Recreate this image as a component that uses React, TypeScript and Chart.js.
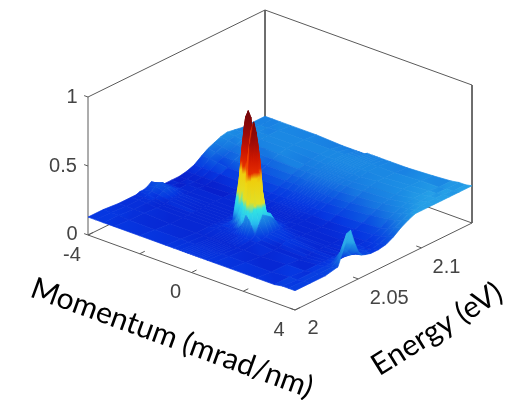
import { useEffect, useRef } from "react";
import { Chart, registerables } from "chart.js";

Chart.register(...registerables);

const momentum = [-4, -3.7, -3.4, -3, -2, -1, -0.7, -0.45, -0.35, -0.25, -0.15, -0.05, 0.05, 0.15, 0.25, 0.35, 0.45, 0.6, 0.85, 1.5, 2.5, 3.2, 3.5, 3.75, 4];
const energy = [2.0, 2.012, 2.024, 2.034, 2.038, 2.041, 2.044, 2.047, 2.05, 2.053, 2.056, 2.06, 2.066, 2.072, 2.078, 2.084, 2.09, 2.095, 2.1, 2.105, 2.11, 2.116, 2.122, 2.13, 2.14];
// intensity x 100, one row per energy, one column per momentum
const intensity = [
  [13, 13, 13, 13, 13, 13, 13, 13, 13, 13, 13, 13, 13, 13, 13, 13, 13, 13, 13, 13, 13, 13, 14, 14, 14],
  [13, 13, 13, 12, 12, 12, 12, 12, 12, 12, 12, 12, 12, 12, 12, 12, 12, 12, 12, 12, 12, 13, 13, 14, 14],
  [12, 12, 12, 12, 11, 11, 11, 11, 11, 11, 11, 11, 11, 11, 11, 11, 11, 11, 11, 11, 12, 12, 13, 14, 14],
  [12, 12, 12, 11, 11, 11, 12, 12, 12, 12, 12, 12, 12, 12, 13, 13, 13, 12, 12, 11, 11, 12, 13, 14, 16],
  [12, 12, 12, 11, 11, 11, 12, 12, 12, 13, 13, 14, 17, 20, 26, 24, 20, 14, 12, 11, 11, 12, 13, 17, 26],
  [13, 13, 12, 11, 11, 11, 12, 13, 14, 15, 18, 24, 36, 62, 76, 60, 38, 20, 13, 12, 11, 12, 14, 22, 37],
  [13, 14, 13, 12, 11, 11, 12, 16, 20, 26, 34, 42, 58, 84, 91, 84, 56, 26, 14, 13, 12, 12, 14, 24, 38],
  [14, 16, 15, 12, 11, 11, 12, 44, 66, 84, 74, 58, 50, 66, 76, 62, 40, 24, 14, 13, 12, 12, 13, 20, 28],
  [16, 17, 16, 12, 11, 11, 13, 70, 88, 93, 89, 68, 34, 30, 30, 28, 24, 22, 14, 12, 11, 12, 13, 16, 20],
  [14, 16, 15, 12, 11, 11, 13, 40, 62, 76, 60, 42, 20, 20, 20, 21, 22, 19, 13, 12, 12, 12, 13, 15, 16],
  [11, 13, 13, 11, 11, 11, 12, 15, 19, 24, 22, 19, 15, 15, 15, 15, 16, 14, 12, 11, 11, 12, 13, 14, 15],
  [10, 11, 11, 11, 11, 11, 11, 12, 12, 13, 13, 13, 12, 12, 12, 12, 12, 12, 11, 11, 11, 12, 13, 14, 14],
  [10, 10, 11, 11, 11, 11, 11, 11, 11, 11, 11, 11, 11, 11, 11, 11, 11, 11, 11, 11, 11, 12, 12, 13, 14],
  [10, 10, 10, 10, 11, 11, 11, 11, 11, 11, 11, 11, 11, 11, 11, 11, 11, 11, 11, 11, 12, 12, 13, 14, 15],
  [11, 11, 11, 11, 11, 12, 12, 12, 12, 12, 12, 12, 12, 12, 12, 12, 12, 12, 12, 12, 13, 14, 15, 16, 18],
  [13, 13, 13, 13, 13, 13, 13, 13, 13, 13, 13, 13, 13, 13, 13, 13, 13, 13, 13, 14, 15, 16, 18, 20, 22],
  [17, 17, 16, 15, 15, 15, 15, 15, 15, 15, 15, 15, 15, 15, 15, 15, 15, 15, 15, 16, 18, 20, 21, 23, 25],
  [20, 19, 18, 18, 17, 17, 17, 17, 17, 17, 17, 17, 17, 17, 17, 17, 17, 17, 17, 18, 20, 22, 24, 25, 27],
  [22, 21, 20, 20, 19, 19, 19, 19, 19, 19, 19, 19, 19, 19, 19, 19, 19, 19, 19, 20, 22, 24, 25, 26, 27],
  [24, 23, 22, 22, 21, 21, 21, 21, 21, 21, 21, 21, 21, 21, 21, 21, 21, 21, 21, 22, 23, 25, 26, 27, 27],
  [25, 24, 24, 23, 23, 22, 22, 22, 22, 22, 22, 22, 22, 22, 22, 22, 22, 22, 22, 23, 24, 26, 26, 27, 27],
  [24, 24, 24, 24, 24, 23, 23, 23, 23, 23, 23, 23, 23, 23, 23, 23, 23, 23, 23, 24, 25, 26, 27, 27, 27],
  [23, 23, 24, 24, 24, 24, 24, 24, 24, 24, 24, 24, 24, 24, 24, 24, 24, 24, 24, 24, 25, 26, 26, 27, 27],
  [23, 23, 23, 24, 24, 24, 24, 24, 24, 24, 24, 24, 24, 24, 24, 24, 24, 24, 24, 24, 25, 25, 26, 26, 27],
  [23, 23, 23, 23, 23, 22, 22, 22, 22, 22, 22, 23, 23, 23, 23, 23, 23, 23, 23, 23, 24, 25, 26, 26, 27],
];

const momentumTicks = [-4, -2, 0, 2, 4];
const momentumTickLabels = ["-4", "0", "4"];
const momentumLabelValues = [-4, 0, 4];
const energyTicks = [2, 2.05, 2.1];
const energyTickLabels = ["2", "2.05", "2.1"];
const intensityTicks = [0, 0.5, 1];
const intensityTickLabels = ["0", "0.5", "1"];

const M_MIN = -4, M_MAX = 4, E_MIN = 2, E_MAX = 2.14;

function project(m: number, e: number, z: number) {
  const a = (M_MAX - m) / (M_MAX - M_MIN);
  const b = (e - E_MIN) / (E_MAX - E_MIN);
  return { x: 295 - 207 * a + 177 * b, y: 310 - 75 * a - 87 * b - 138 * z };
}

const plainStops: [number, number[]][] = [
  [0.1, [8, 32, 205]], [0.13, [6, 55, 225]], [0.17, [12, 85, 225]], [0.21, [22, 118, 225]], [0.25, [28, 142, 228]], [0.28, [42, 168, 232]], [0.38, [50, 180, 235]],
];
const peakStops: [number, number[]][] = [
  [0.13, [6, 55, 225]], [0.17, [26, 130, 228]], [0.22, [40, 195, 240]], [0.31, [50, 230, 225]], [0.33, [225, 225, 40]], [0.52, [240, 205, 10]], [0.55, [230, 45, 0]], [0.66, [205, 22, 0]], [0.78, [155, 10, 8]], [0.95, [110, 5, 10]],
];
const flankStops: [number, number[]][] = [
  [0.13, [6, 55, 225]], [0.17, [26, 130, 228]], [0.22, [40, 195, 240]], [0.31, [50, 230, 225]], [0.33, [225, 225, 40]], [0.52, [245, 210, 10]], [0.55, [245, 75, 0]], [0.8, [235, 50, 0]], [0.93, [190, 20, 0]],
];

function colorAt(stops: [number, number[]][], z: number) {
  if (z <= stops[0][0]) return `rgb(${stops[0][1].join(",")})`;
  for (let i = 1; i < stops.length; i++) {
    if (z <= stops[i][0]) {
      const t = (z - stops[i - 1][0]) / (stops[i][0] - stops[i - 1][0]);
      const c = stops[i - 1][1].map((v, k) => Math.round(v + (stops[i][1][k] - v) * t));
      return `rgb(${c.join(",")})`;
    }
  }
  return `rgb(${stops[stops.length - 1][1].join(",")})`;
}

function lineSet(points: { x: number; y: number }[], color: string, width = 1) {
  return {
    data: points,
    showLine: true,
    borderColor: color,
    borderWidth: width,
    pointRadius: 0,
    fill: false,
    tension: 0,
    clip: false,
  };
}

function buildSurface(ctx: CanvasRenderingContext2D) {
  const out: any[] = [];
  for (let i = 0; i < momentum.length - 1; i++) {
    for (let j = energy.length - 2; j >= 0; j--) {
      const corners = [
        [i, j], [i + 1, j], [i + 1, j + 1], [i, j + 1],
      ].map(([c, r]) => {
        const z = intensity[r][c] / 100;
        return { z, ...project(momentum[c], energy[r], z) };
      });
      const inPeak = momentum[i] >= -0.7 && momentum[i + 1] <= 0.6 && energy[j] >= 2.038 && energy[j + 1] <= 2.056;
      const onFlank = momentum[i] >= 0.05 && momentum[i + 1] <= 0.25;
      const stops = inPeak ? (onFlank ? flankStops : peakStops) : plainStops;
      let lo = corners[0], hi = corners[0];
      for (const c of corners) {
        if (c.z < lo.z) lo = c;
        if (c.z > hi.z) hi = c;
      }
      let paint: any;
      if (hi.z - lo.z < 0.001) {
        paint = colorAt(stops, lo.z);
      } else {
        const g = ctx.createLinearGradient(lo.x, lo.y, hi.x, hi.y);
        const n = 10;
        for (let s = 0; s <= n; s++) g.addColorStop(s / n, colorAt(stops, lo.z + ((hi.z - lo.z) * s) / n));
        paint = g;
      }
      out.push({
        data: [...corners.map((c) => ({ x: c.x, y: c.y })), { x: corners[0].x, y: corners[0].y }],
        showLine: true,
        fill: "shape",
        backgroundColor: paint,
        borderColor: paint,
        borderWidth: 0.7,
        pointRadius: 0,
        tension: 0,
        clip: false,
      });
    }
  }
  return out;
}

function buildBox() {
  const grey = "#5a5a5a";
  const c = (m: number, e: number, z: number) => project(m, e, z);
  const sets = [
    lineSet([c(M_MIN, E_MIN, 0), c(M_MAX, E_MIN, 0), c(M_MAX, E_MAX, 0), c(M_MIN, E_MAX, 0), c(M_MIN, E_MIN, 0)], grey),
    lineSet([c(M_MIN, E_MIN, 0), c(M_MIN, E_MIN, 1), c(M_MIN, E_MAX, 1), c(M_MAX, E_MAX, 1), c(M_MAX, E_MAX, 0)], grey),
    lineSet([c(M_MIN, E_MAX, 1), c(M_MIN, E_MAX, 0)], grey),
  ];
  for (const m of momentumTicks) sets.push(lineSet([c(m, E_MIN, 0), c(m, E_MIN + 0.004, 0)], grey));
  for (const e of energyTicks) sets.push(lineSet([c(M_MAX, e, 0), c(M_MAX - 0.2, e, 0)], grey));
  for (const z of intensityTicks) sets.push(lineSet([c(M_MIN, E_MIN, z), c(M_MIN - 0.15, E_MIN, z)], grey));
  return sets;
}

const textPlugin = {
  id: "axisText",
  afterDraw(chart: any) {
    const { ctx, scales } = chart;
    const put = (text: string, px: number, py: number, font: string, color: string, angle = 0) => {
      ctx.save();
      ctx.translate(scales.x.getPixelForValue(px), scales.y.getPixelForValue(py));
      ctx.rotate((angle * Math.PI) / 180);
      ctx.font = font;
      ctx.fillStyle = color;
      ctx.textAlign = "center";
      ctx.textBaseline = "middle";
      ctx.fillText(text, 0, 0);
      ctx.restore();
    };
    const tickFont = '20px "Liberation Sans"';
    const tickColor = "#444444";
    intensityTickLabels.forEach((t, i) => {
      const p = project(M_MIN, E_MIN, intensityTicks[i]);
      const w = t.length > 1 ? 25 : 16;
      put(t, p.x - w, p.y - (i === 0 ? 1 : 0), tickFont, tickColor);
    });
    momentumTickLabels.forEach((t, i) => {
      const p = project(momentumLabelValues[i], E_MIN, 0);
      put(t, p.x - 16, p.y + 20, tickFont, tickColor);
    });
    energyTickLabels.forEach((t, i) => {
      const p = project(M_MAX, energyTicks[i], 0);
      put(t, p.x + (i === 0 ? 18 : i === 1 ? 31 : 25), p.y + (i === 0 ? 18 : 20), tickFont, tickColor);
    });
    put("Momentum (mrad/nm)", 172, 338, "30px Lato", "#000", 20);
    put("Energy (eV)", 437, 329, "30px Lato", "#000", -32);
  },
};

export default function App() {
  const ref = useRef<HTMLCanvasElement>(null);
  useEffect(() => {
    document.body.style.margin = "0";
    const canvas = ref.current!;
    const ctx = canvas.getContext("2d")!;
    const drawOrder = [...buildBox(), ...buildSurface(ctx)];
    const chart = new Chart(canvas, {
      type: "scatter",
      data: { datasets: drawOrder.reverse() },
      options: {
        animation: false,
        responsive: false,
        layout: { padding: 0 },
        plugins: { legend: { display: false }, tooltip: { enabled: false } },
        scales: {
          x: { type: "linear", display: false, min: 0, max: 509 },
          y: { type: "linear", display: false, min: 0, max: 400, reverse: true },
        },
      },
      plugins: [textPlugin],
    });
    return () => chart.destroy();
  }, []);
  return (
    <div style={{ width: 509, height: 400 }}>
      <canvas ref={ref} width={509} height={400} style={{ display: "block", filter: "blur(0.4px)" }} />
    </div>
  );
}
